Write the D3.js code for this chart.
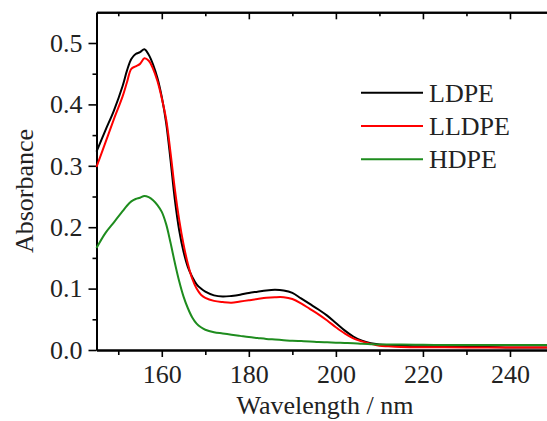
<!DOCTYPE html>
<html>
<head>
<meta charset="utf-8">
<script src="https://cdn.jsdelivr.net/npm/d3@7.9.0/dist/d3.min.js"></script>
<style>
  body { margin: 0; background: #fff; }
  svg text { font-family: "Liberation Serif", "Times New Roman", serif; fill: #222; }
</style>
</head>
<body>
<svg id="chart" width="547" height="421"></svg>
<script>
// wavelength grid (nm) shared by all three spectra
const wavelengths = [145, 147, 149, 151, 152, 153, 154, 155, 156, 157, 158, 159, 160, 161, 162, 163,
  164, 165, 166, 167, 168, 169, 170, 172, 174, 176, 178, 180, 182, 184, 186, 188, 190, 192, 194,
  196, 198, 200, 202, 204, 206, 208, 210, 212, 215, 220, 225, 230, 235, 240, 245, 250];

const ldpe = [0.323, 0.357, 0.390, 0.430, 0.455, 0.474, 0.482, 0.485, 0.490, 0.481, 0.465, 0.443,
  0.412, 0.370, 0.310, 0.245, 0.195, 0.160, 0.135, 0.119, 0.107, 0.100, 0.095, 0.089, 0.087, 0.088,
  0.090, 0.093, 0.095, 0.097, 0.098, 0.097, 0.093, 0.084, 0.075, 0.066, 0.056, 0.044, 0.032, 0.022,
  0.015, 0.011, 0.009, 0.008, 0.007, 0.006, 0.006, 0.005, 0.005, 0.004, 0.004, 0.004];

const lldpe = [0.298, 0.337, 0.376, 0.413, 0.436, 0.458, 0.462, 0.466, 0.475, 0.471, 0.458, 0.438,
  0.410, 0.376, 0.322, 0.262, 0.212, 0.172, 0.140, 0.116, 0.100, 0.090, 0.085, 0.080, 0.078, 0.077,
  0.079, 0.081, 0.083, 0.085, 0.086, 0.086, 0.083, 0.076, 0.067, 0.058, 0.048, 0.037, 0.027, 0.019,
  0.014, 0.010, 0.007, 0.006, 0.005, 0.0045, 0.0045, 0.004, 0.004, 0.004, 0.004, 0.004];

const hdpe = [0.166, 0.190, 0.208, 0.226, 0.235, 0.242, 0.246, 0.248, 0.251, 0.249, 0.244, 0.236,
  0.225, 0.205, 0.175, 0.142, 0.112, 0.087, 0.068, 0.053, 0.043, 0.037, 0.033, 0.029, 0.027, 0.025,
  0.023, 0.021, 0.0195, 0.018, 0.017, 0.016, 0.015, 0.0145, 0.014, 0.013, 0.0125, 0.012, 0.0115,
  0.011, 0.010, 0.0095, 0.009, 0.009, 0.0088, 0.0085, 0.0082, 0.008, 0.008, 0.008, 0.008, 0.008];

const seriesNames = ['LDPE', 'LLDPE', 'HDPE'];
const seriesColors = ['#000000', '#ff0000', '#1e8c1e'];

const xMajor = [160, 180, 200, 220, 240];
const xMinor = [150, 170, 190, 210, 230];
const yMajor = [0, 0.1, 0.2, 0.3, 0.4, 0.5];
const yMinor = [0.05, 0.15, 0.25, 0.35, 0.45];

const svg = d3.select('#chart');

// plot box, right edge falls just past the picture
const x = d3.scaleLinear().domain([145, 250]).range([96.5, 553.5]);
const y = d3.scaleLinear().domain([0, 0.55]).range([350, 12.3]);

const fontSize = 26;

function styleAxis(g) {
  g.selectAll('path').attr('stroke', '#000').attr('stroke-width', 2);
  g.selectAll('line').attr('stroke', '#000').attr('stroke-width', 1.6);
  g.selectAll('text').style('font-size', fontSize + 'px').attr('fill', '#222');
}

// bottom axis
svg.append('g')
  .attr('transform', `translate(0,${y(0)})`)
  .call(d3.axisBottom(x).tickValues(xMinor).tickSize(5).tickSizeOuter(0).tickFormat(''))
  .call(styleAxis);
svg.append('g')
  .attr('transform', `translate(0,${y(0)})`)
  .call(d3.axisBottom(x).tickValues(xMajor).tickSize(7).tickSizeOuter(0).tickPadding(8).tickFormat(d3.format('d')))
  .call(styleAxis);

// top frame, ticks pointing inside
svg.append('g')
  .attr('transform', `translate(0,${y(0.55)})`)
  .call(d3.axisTop(x).tickValues(xMinor).tickSize(-4).tickSizeOuter(0).tickFormat(''))
  .call(styleAxis);
svg.append('g')
  .attr('transform', `translate(0,${y(0.55)})`)
  .call(d3.axisTop(x).tickValues(xMajor).tickSize(-7).tickSizeOuter(0).tickFormat(''))
  .call(styleAxis);

// left axis
svg.append('g')
  .attr('transform', `translate(${x(145)},0)`)
  .call(d3.axisLeft(y).tickValues(yMinor).tickSize(4).tickSizeOuter(0).tickFormat(''))
  .call(styleAxis);
svg.append('g')
  .attr('transform', `translate(${x(145)},0)`)
  .call(d3.axisLeft(y).tickValues(yMajor).tickSize(8).tickSizeOuter(0).tickPadding(6).tickFormat(d3.format('.1f')))
  .call(styleAxis);

// spectra
const line = d3.line()
  .x(d => x(d[0]))
  .y(d => y(d[1]))
  .curve(d3.curveCatmullRom.alpha(0.5));

[ldpe, lldpe, hdpe].forEach((vals, i) => {
  svg.append('path')
    .datum(wavelengths.map((w, j) => [w, vals[j]]))
    .attr('fill', 'none')
    .attr('stroke', seriesColors[i])
    .attr('stroke-width', 2)
    .attr('stroke-linejoin', 'round')
    .attr('d', line);
});

// legend
const legend = svg.append('g');
seriesNames.forEach((name, i) => {
  const ly = 92.7 + i * 33.3;
  legend.append('line')
    .attr('x1', 361).attr('x2', 423)
    .attr('y1', ly).attr('y2', ly)
    .attr('stroke', seriesColors[i])
    .attr('stroke-width', 2);
  legend.append('text')
    .attr('x', 429).attr('y', ly + 9)
    .style('font-size', fontSize + 'px')
    .text(name);
});

// axis titles
svg.append('text')
  .attr('x', 325).attr('y', 414)
  .attr('text-anchor', 'middle')
  .style('font-size', fontSize + 'px')
  .text('Wavelength / nm');

svg.append('text')
  .attr('transform', 'translate(33,191) rotate(-90)')
  .attr('text-anchor', 'middle')
  .style('font-size', fontSize + 'px')
  .text('Absorbance');
</script>
</body>
</html>
